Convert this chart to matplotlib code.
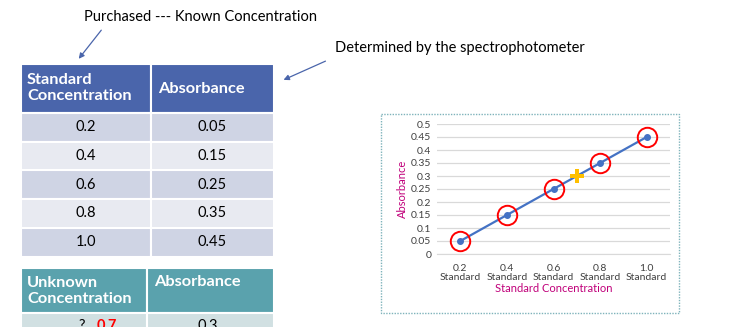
import matplotlib.pyplot as plt
from matplotlib.patches import Rectangle, FancyArrowPatch

plt.rcParams['font.family'] = ['Lato', 'DejaVu Sans']

# standard curve data
conc_labels = ["0.2", "0.4", "0.6", "0.8", "1.0"]
absorbance = [0.05, 0.15, 0.25, 0.35, 0.45]
abs_labels = ["0.05", "0.15", "0.25", "0.35", "0.45"]

# unknown sample
unknown_conc = "0.7"
unknown_abs = 0.3
unknown_pos = 2.5   # halfway between the 0.6 and 0.8 standards

W, H = 742, 327
fig = plt.figure(figsize=(W / 100, H / 100), dpi=100)

# overlay in pixel coordinates for the slide parts
ov = fig.add_axes([0, 0, 1, 1])
ov.set_xlim(0, W)
ov.set_ylim(H, 0)
ov.axis("off")

blue_head = "#4A65AB"
teal_head = "#5AA2AD"
row_dark = "#CFD4E4"
row_light = "#E8EAF1"
teal_row = "#D1E0E2"
head_fs = 11.8


def cell(x0, y0, x1, y1, color):
    ov.add_patch(Rectangle((x0, y0), x1 - x0, y1 - y0, facecolor=color,
                           edgecolor="white", linewidth=1.5))


# annotations
ov.text(200, 17, "Purchased --- Known Concentration", fontsize=10.5,
        ha="center", va="center", color="black")
ov.add_patch(FancyArrowPatch((103, 28), (77, 61), arrowstyle="-|>", mutation_scale=8,
                             color="#4A65AB", linewidth=0.9))
ov.text(335, 48, "Determined by the spectrophotometer", fontsize=10.5,
        ha="left", va="center", color="black")
ov.add_patch(FancyArrowPatch((328, 60), (281, 81), arrowstyle="-|>", mutation_scale=8,
                             color="#4A65AB", linewidth=0.9))

# table of standards
x0, xm, x1 = 21, 151, 274
cell(x0, 64, xm, 113, blue_head)
cell(xm, 64, x1, 113, blue_head)
ov.text(27, 88, "Standard\nConcentration", fontsize=head_fs, fontweight="bold",
        color="white", ha="left", va="center", linespacing=1.2)
ov.text(158, 89, "Absorbance", fontsize=head_fs, fontweight="bold",
        color="white", ha="left", va="center")
row_h = 28.7
for i, (c, a) in enumerate(zip(conc_labels, abs_labels)):
    top = 113 + i * row_h
    color = row_dark if i % 2 == 0 else row_light
    cell(x0, top, xm, top + row_h, color)
    cell(xm, top, x1, top + row_h, color)
    ov.text((x0 + xm) / 2, top + row_h / 2, c, fontsize=10.5, ha="center", va="center")
    ov.text((xm + x1) / 2, top + row_h / 2, a, fontsize=10.5, ha="center", va="center")

# table of the unknown
xm2 = 147
cell(x0, 268, xm2, 313, teal_head)
cell(xm2, 268, x1, 313, teal_head)
ov.text(27, 291, "Unknown\nConcentration", fontsize=head_fs, fontweight="bold",
        color="white", ha="left", va="center", linespacing=1.2)
ov.text(154, 282, "Absorbance", fontsize=head_fs, fontweight="bold",
        color="white", ha="left", va="center")
cell(x0, 313, xm2, 345, teal_row)
cell(xm2, 313, x1, 345, teal_row)
ov.text(82, 326, "?", fontsize=10.5, ha="center", va="center")
ov.text(97, 326, unknown_conc, fontsize=10.5, fontweight="bold", color="red",
        ha="left", va="center")
ov.text(208, 326, f"{unknown_abs:g}", fontsize=10.5, ha="center", va="center")

# chart frame
ov.add_patch(Rectangle((381, 114), 298, 199, facecolor="white", edgecolor="#7FB3BB",
                       linewidth=1.0, linestyle=(0, (1, 1))))

# the chart itself
ax = fig.add_axes([437 / W, (H - 254) / H, 233 / W, 130 / H])
xs = list(range(len(conc_labels)))
ax.set_xlim(-0.5, len(conc_labels) - 0.5)
ax.set_ylim(0, 0.5)
yt = [i * 0.05 for i in range(11)]
ax.set_yticks(yt)
ax.set_yticklabels(["0" if v == 0 else f"{v:.2f}".rstrip("0") for v in yt])
ax.yaxis.grid(True, color="#D9D9D9", linewidth=0.9)
ax.set_axisbelow(True)
for s in ax.spines.values():
    s.set_visible(False)
ax.spines["bottom"].set_visible(True)
ax.spines["bottom"].set_color("#D9D9D9")
ax.tick_params(length=0, labelsize=7.5, colors="#404040", pad=4)
ax.set_xticks(xs)
ax.set_xticklabels([f"{c}\nStandard" for c in conc_labels], linespacing=1.05)
ax.tick_params(axis="x", pad=7)

ax.plot(xs, absorbance, color="#4472C4", linewidth=1.6, marker="o", markersize=4)
ax.plot(xs, absorbance, linestyle="none", marker="o", markersize=14,
        markerfacecolor="none", markeredgecolor="red", markeredgewidth=1.4)
ax.plot([unknown_pos], [unknown_abs], linestyle="none", marker="P", markersize=10,
        color="#FFC000", markeredgewidth=0)

ax.set_xlabel("Standard Concentration", fontsize=8, color="#C0007A", labelpad=1)
ax.set_ylabel("Absorbance", fontsize=8, color="#C0007A", labelpad=2)

fig.savefig("out.png", dpi=100)
